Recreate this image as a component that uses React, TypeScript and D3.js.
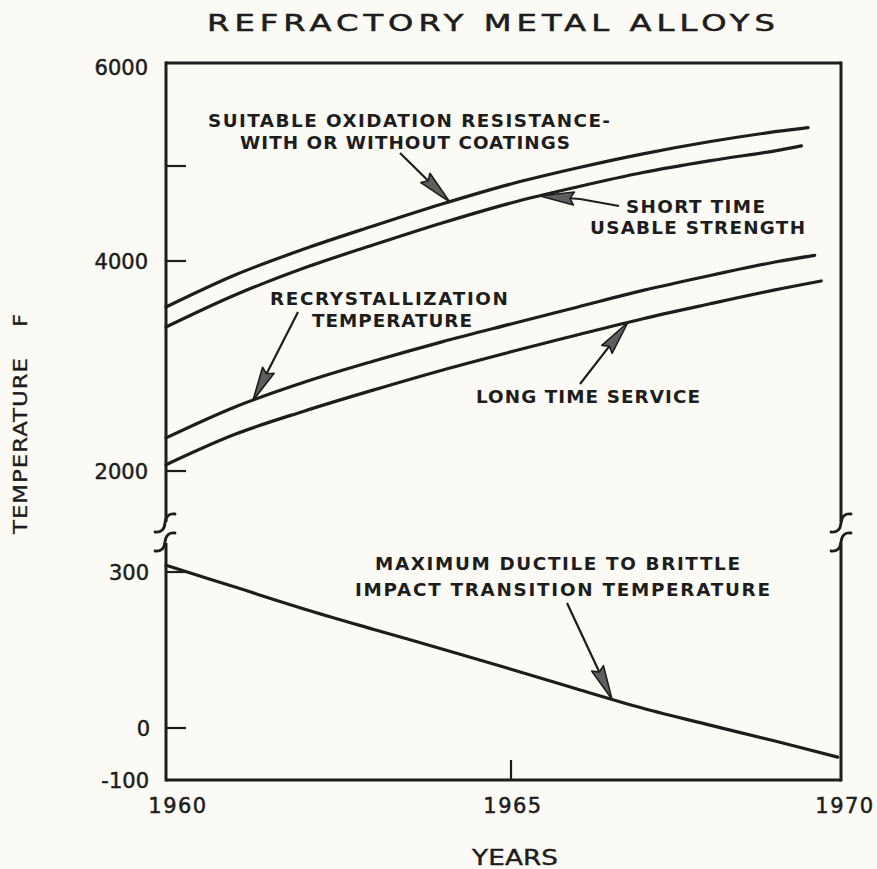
import React from 'react';
import * as d3 from 'd3';

// ---- data ----
const yearsOxidation = [1960, 1961, 1962, 1963, 1964, 1965, 1966, 1967, 1968, 1969, 1969.5];
const oxidationResistance = [3562, 3867, 4126, 4368, 4600, 4811, 4979, 5118, 5235, 5333, 5373];

const yearsShortTime = [1960, 1961, 1962, 1963, 1964, 1965, 1966, 1967, 1968, 1969, 1969.4];
const shortTimeStrength = [3371, 3676, 3933, 4168, 4400, 4611, 4779, 4931, 5049, 5147, 5196];

const yearsRecryst = [1960, 1961, 1962, 1963, 1964, 1965, 1966, 1967, 1968, 1969, 1969.6];
const recrystallization = [2315, 2610, 2845, 3045, 3230, 3400, 3560, 3720, 3860, 3990, 4060];

const yearsLongTime = [1960, 1961, 1962, 1963, 1964, 1965, 1966, 1967, 1968, 1969, 1969.7];
const longTimeService = [2060, 2350, 2570, 2770, 2960, 3135, 3295, 3450, 3590, 3725, 3810];

const yearsDuctile = [1960, 1961, 1962, 1963, 1964, 1965, 1966, 1967, 1968, 1969, 1969.95];
const ductileBrittle = [313, 271, 229, 190, 152, 113, 75, 38, 6, -25, -56];

const upperTicks = [2000, 4000, 5000];
const upperTickLabels = [2000, 4000, 6000];
const lowerTicks = [0, 300];
const lowerTickLabels = [-100, 0, 300];
const yearTicks = [1960, 1965, 1970];

const W = 877;
const H = 869;
const INK = '#1d1d1d';

const x = d3.scaleLinear().domain([1960, 1965, 1970]).range([166, 511, 841]);
const yUp = d3.scaleLinear().domain([2000, 4000, 5000, 6000]).range([471, 261, 166, 63]);
const yLo = d3.scaleLinear().domain([-100, 300]).range([780, 572]);

type Pt = [number, number];
const zip = (a: number[], b: number[]): Pt[] => a.map((v, i) => [v, b[i]]);

function interp(xs: number[], vs: number[], t: number) {
  for (let i = 0; i < xs.length - 1; i++) {
    if (t >= xs[i] && t <= xs[i + 1]) {
      const f = (t - xs[i]) / (xs[i + 1] - xs[i]);
      return vs[i] + f * (vs[i + 1] - vs[i]);
    }
  }
  return vs[vs.length - 1];
}

const lineUp = d3
  .line<Pt>()
  .x((d) => x(d[0]))
  .y((d) => yUp(d[1]))
  .curve(d3.curveCatmullRom.alpha(0.5));
const lineLo = d3
  .line<Pt>()
  .x((d) => x(d[0]))
  .y((d) => yLo(d[1]))
  .curve(d3.curveCatmullRom.alpha(0.5));

function Arrow({ tip, tail }: { tip: Pt; tail: Pt }) {
  const [tx, ty] = tip;
  const [sx, sy] = tail;
  const dx = tx - sx;
  const dy = ty - sy;
  const len = Math.hypot(dx, dy);
  const ux = dx / len;
  const uy = dy / len;
  const headLen = 34;
  const half = 6.5;
  const bx = tx - ux * headLen;
  const by = ty - uy * headLen;
  const px = -uy;
  const py = ux;
  const pts = `${tx},${ty} ${bx + px * half},${by + py * half} ${bx + ux * 4},${by + uy * 4} ${bx - px * half},${by - py * half}`;
  return (
    <g>
      <line x1={sx} y1={sy} x2={bx + ux * 4} y2={by + uy * 4} stroke={INK} strokeWidth={2.2} />
      <polygon points={pts} fill="#5e5e5e" stroke={INK} strokeWidth={1.6} strokeLinejoin="round" />
    </g>
  );
}

function BreakMark({ cx, cy }: { cx: number; cy: number }) {
  const d = `M ${cx + 10} ${cy - 9} Q ${cx + 1} ${cy - 10} ${cx} ${cy} Q ${cx - 1} ${cy + 10} ${cx - 10} ${cy + 9}`;
  return <path d={d} fill="none" stroke={INK} strokeWidth={2.8} strokeLinecap="round" />;
}

function WideText({
  x0,
  y0,
  w,
  sx,
  size,
  weight,
  rotate,
  sw,
  children,
}: {
  x0: number;
  y0: number;
  w: number;
  sx: number;
  size: number;
  weight?: number;
  rotate?: boolean;
  sw?: number;
  children: React.ReactNode;
}) {
  const tf = `translate(${x0},${y0})${rotate ? ' rotate(-90)' : ''} scale(${sx},1)`;
  return (
    <text
      transform={tf}
      textLength={w / sx}
      lengthAdjust="spacing"
      style={{
        fontFamily: 'DejaVu Sans',
        fontSize: size,
        fontWeight: weight || 400,
        fill: INK,
        stroke: sw ? INK : 'none',
        strokeWidth: sw || 0,
      }}
    >
      {children}
    </text>
  );
}

export default function App() {
  const xl = x(1960);
  const xr = x(1970);
  const yTop = yUp(6000);
  const yBot = yLo(-100);
  const breakTop = 522;
  const breakBot = 543;

  const tipOx: Pt = [x(1964.11), yUp(interp(yearsOxidation, oxidationResistance, 1964.11))];
  const tipShort: Pt = [x(1965.44), yUp(interp(yearsShortTime, shortTimeStrength, 1965.44))];
  const tipRec: Pt = [x(1961.26), yUp(interp(yearsRecryst, recrystallization, 1961.26))];
  const tipLong: Pt = [x(1966.77), yUp(interp(yearsLongTime, longTimeService, 1966.77))];
  const tipDuct: Pt = [x(1966.53), yLo(interp(yearsDuctile, ductileBrittle, 1966.53))];

  const tickFont = {
    fontFamily: 'DejaVu Sans',
    fontWeight: 400,
    fontSize: 21,
    fill: INK,
    stroke: INK,
    strokeWidth: 0.5,
  } as const;

  const ann = [
    { t: 'SUITABLE OXIDATION RESISTANCE-', x: 208, y: 127, w: 402 },
    { t: 'WITH OR WITHOUT COATINGS', x: 240, y: 149, w: 330 },
    { t: 'SHORT TIME', x: 626, y: 213, w: 139 },
    { t: 'USABLE STRENGTH', x: 590, y: 234, w: 215 },
    { t: 'RECRYSTALLIZATION', x: 270, y: 305, w: 238 },
    { t: 'TEMPERATURE', x: 312, y: 327, w: 160 },
    { t: 'LONG TIME SERVICE', x: 476, y: 403, w: 224 },
    { t: 'MAXIMUM DUCTILE TO BRITTLE', x: 375, y: 570, w: 365 },
    { t: 'IMPACT TRANSITION TEMPERATURE', x: 355, y: 596, w: 415 },
  ];

  return (
    <svg
      width={W}
      height={H}
      viewBox={`0 0 ${W} ${H}`}
      style={{ position: 'absolute', left: 0, top: 0, display: 'block' }}
    >
      <rect x={0} y={0} width={W} height={H} fill="#fbfaf4" />

      {/* title */}
      <WideText x0={207} y0={31} w={568} sx={1.4} size={23} sw={0.5}>
        REFRACTORY METAL ALLOYS
      </WideText>

      {/* frame */}
      <line x1={xl} y1={yTop} x2={xr} y2={yTop} stroke={INK} strokeWidth={3} />
      <line x1={xl} y1={yBot} x2={xr} y2={yBot} stroke={INK} strokeWidth={3} />
      <line x1={xl} y1={yTop - 1.5} x2={xl} y2={breakTop} stroke={INK} strokeWidth={3} />
      <line x1={xl} y1={breakBot} x2={xl} y2={yBot + 1.5} stroke={INK} strokeWidth={3} />
      <line x1={xr} y1={yTop - 1.5} x2={xr} y2={breakTop} stroke={INK} strokeWidth={3} />
      <line x1={xr} y1={breakBot} x2={xr} y2={yBot + 1.5} stroke={INK} strokeWidth={3} />
      <BreakMark cx={xl - 1} cy={breakTop + 1} />
      <BreakMark cx={xl - 1} cy={breakBot - 1} />
      <BreakMark cx={xr} cy={breakTop + 1} />
      <BreakMark cx={xr} cy={breakBot - 1} />

      {/* ticks */}
      {upperTicks.map((t) => (
        <line key={`u${t}`} x1={xl} x2={xl + 20} y1={yUp(t)} y2={yUp(t)} stroke={INK} strokeWidth={2.2} />
      ))}
      {lowerTicks.map((t) => (
        <line key={`l${t}`} x1={xl} x2={xl + 20} y1={yLo(t)} y2={yLo(t)} stroke={INK} strokeWidth={2.2} />
      ))}
      <line x1={x(1965)} x2={x(1965)} y1={yBot} y2={yBot - 20} stroke={INK} strokeWidth={2.2} />

      {/* tick labels */}
      {upperTickLabels.map((t) => (
        <text key={`ut${t}`} x={148} y={yUp(t) + (t === 6000 ? 12 : 8)} textAnchor="end" style={tickFont}>
          {t}
        </text>
      ))}
      {lowerTickLabels.map((t) => (
        <text key={`lt${t}`} x={t === 0 ? 150 : 149} y={yLo(t) + 8} textAnchor="end" style={tickFont}>
          {t === -100 ? '-100' : t}
        </text>
      ))}
      {yearTicks.map((t) => (
        <text
          key={`yt${t}`}
          x={x(t) + (t === 1960 ? 12 : t === 1970 ? 4 : 2)}
          y={813}
          textAnchor="middle"
          style={{ ...tickFont, letterSpacing: 1.5 }}
        >
          {t}
        </text>
      ))}

      {/* axis titles */}
      <WideText x0={472} y0={865} w={86} sx={1.25} size={21} sw={0.4}>
        YEARS
      </WideText>
      <WideText x0={27} y0={534} w={176} sx={1.2} size={19} sw={0.3} rotate>
        TEMPERATURE
      </WideText>
      <WideText x0={27} y0={327} w={15} sx={1.2} size={19} sw={0.3} rotate>
        F
      </WideText>

      {/* curves */}
      <g fill="none" stroke={INK} strokeWidth={3.2} strokeLinecap="round">
        <path d={lineUp(zip(yearsOxidation, oxidationResistance)) || ''} />
        <path d={lineUp(zip(yearsShortTime, shortTimeStrength)) || ''} />
        <path d={lineUp(zip(yearsRecryst, recrystallization)) || ''} />
        <path d={lineUp(zip(yearsLongTime, longTimeService)) || ''} />
        <path d={lineLo(zip(yearsDuctile, ductileBrittle)) || ''} />
      </g>

      {/* annotations */}
      {ann.map((a) => (
        <WideText key={a.t + a.y} x0={a.x} y0={a.y} w={a.w} sx={1.08} size={17} weight={700}>
          {a.t}
        </WideText>
      ))}

      <Arrow tip={tipOx} tail={[400, 153]} />
      <Arrow tip={tipShort} tail={[580, 199]} />
      <line x1={580} y1={199} x2={619} y2={206} stroke={INK} strokeWidth={2} />
      <Arrow tip={tipRec} tail={[298, 312]} />
      <Arrow tip={tipLong} tail={[580, 384]} />
      <Arrow tip={tipDuct} tail={[567, 603]} />
    </svg>
  );
}
